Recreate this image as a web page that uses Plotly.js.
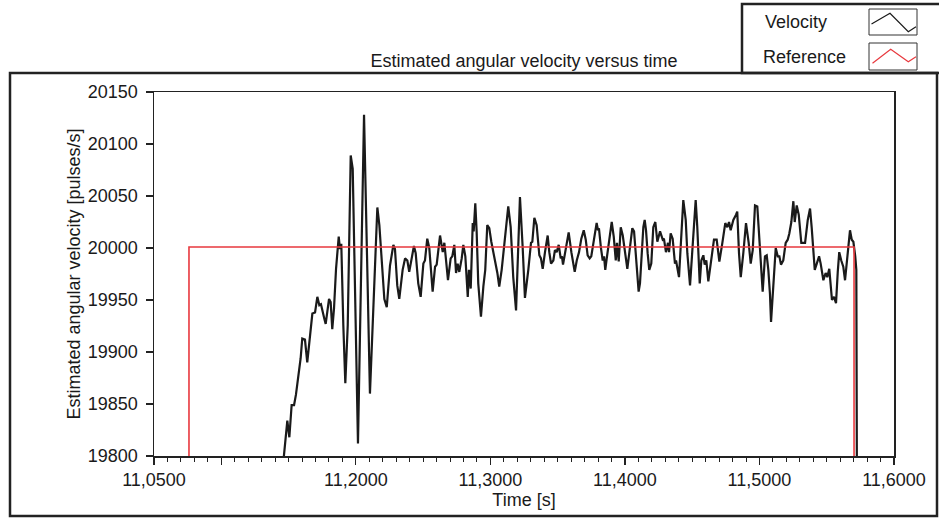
<!DOCTYPE html>
<html>
<head>
<meta charset="utf-8">
<script src="https://cdn.plot.ly/plotly-3.0.1.min.js"></script>
<style>
  html, body { margin: 0; padding: 0; background: #ffffff; }
  #chart { width: 939px; height: 521px; }
</style>
</head>
<body>
<div id="chart"></div>
<script>
// ---- data ----
const timeS = [
  11.1455, 11.1466, 11.1491, 11.1506, 11.1523, 11.1541, 11.1555, 11.1572, 11.1590, 11.1602,
  11.1622, 11.1639, 11.1654, 11.1677, 11.1697, 11.1714, 11.1729, 11.1741, 11.1766, 11.1776,
  11.1801, 11.1813, 11.1825, 11.1838, 11.1853, 11.1862, 11.1873, 11.1882, 11.1892, 11.1907,
  11.1922, 11.1940, 11.1962, 11.1977, 11.1994, 11.2016, 11.2061, 11.2073, 11.2105, 11.2160,
  11.2175, 11.2212, 11.2230, 11.2254, 11.2279, 11.2291, 11.2308, 11.2323,
  11.2348, 11.2366, 11.2383, 11.2397, 11.2415, 11.2432, 11.2445, 11.2464, 11.2482, 11.2502,
  11.2514, 11.2531, 11.2546, 11.2559, 11.2571, 11.2589, 11.2601, 11.2626, 11.2635, 11.2646,
  11.2658, 11.2670, 11.2685, 11.2705, 11.2717, 11.2732, 11.2745, 11.2757, 11.2769, 11.2787,
  11.2799, 11.2814, 11.2832, 11.2841, 11.2854, 11.2869, 11.2876, 11.2888, 11.2898, 11.2910,
  11.2930, 11.2948, 11.2962, 11.2977, 11.2992, 11.3007, 11.3020, 11.3034, 11.3052, 11.3066,
  11.3084, 11.3101, 11.3133, 11.3151, 11.3170, 11.3191, 11.3220,
  11.3240, 11.3257, 11.3282, 11.3302, 11.3312, 11.3327, 11.3344, 11.3364, 11.3376, 11.3389,
  11.3406, 11.3426, 11.3438, 11.3451, 11.3468, 11.3480, 11.3493, 11.3508, 11.3523, 11.3532,
  11.3540, 11.3562, 11.3582, 11.3602, 11.3616, 11.3627, 11.3642, 11.3659, 11.3676, 11.3694,
  11.3709, 11.3723, 11.3738, 11.3750, 11.3770, 11.3790, 11.3800, 11.3807, 11.3822, 11.3835,
  11.3845, 11.3854, 11.3865, 11.3884, 11.3902, 11.3917, 11.3932, 11.3941, 11.3954, 11.3969,
  11.3984, 11.4018, 11.4033, 11.4055, 11.4068, 11.4088, 11.4102,
  11.4112, 11.4125, 11.4137, 11.4147, 11.4157, 11.4169, 11.4181, 11.4196, 11.4211, 11.4226,
  11.4241, 11.4261, 11.4281, 11.4290, 11.4305, 11.4320, 11.4328, 11.4340, 11.4355, 11.4372,
  11.4380, 11.4402, 11.4415, 11.4427, 11.4434, 11.4452, 11.4464, 11.4484, 11.4501, 11.4526,
  11.4538, 11.4556, 11.4568, 11.4583, 11.4593, 11.4605, 11.4620, 11.4638, 11.4662, 11.4682,
  11.4702, 11.4722, 11.4746, 11.4761, 11.4774, 11.4786, 11.4806, 11.4826, 11.4835, 11.4848,
  11.4861, 11.4880, 11.4900, 11.4920, 11.4935, 11.4950, 11.4967, 11.4984, 11.4999,
  11.5004, 11.5024, 11.5041, 11.5054, 11.5066, 11.5078, 11.5086, 11.5103, 11.5121, 11.5136,
  11.5148, 11.5160, 11.5177, 11.5195, 11.5210, 11.5222, 11.5237, 11.5252, 11.5262, 11.5277,
  11.5292, 11.5311, 11.5339, 11.5359, 11.5376, 11.5388, 11.5411, 11.5426, 11.5443, 11.5455,
  11.5475, 11.5492, 11.5504, 11.5519, 11.5539, 11.5554, 11.5569, 11.5582, 11.5593, 11.5608,
  11.5623, 11.5636, 11.5653, 11.5673, 11.5686, 11.5698, 11.5712, 11.5720, 11.5726
];
const velocity = [
  19786, 19801, 19834, 19818, 19849, 19849, 19859, 19876, 19894, 19913,
  19912, 19890, 19910, 19937, 19938, 19953, 19945, 19946, 19932, 19927,
  19951, 19948, 19922, 19942, 19980, 19993, 20011, 19999, 20004, 19926,
  19870, 19926, 20089, 20076, 19958, 19812, 20128, 20054, 19860, 20039,
  20022, 19951, 19943, 19983, 20003, 19999, 19964, 19951,
  19979, 19990, 19988, 19977, 19992, 20002, 19995, 19966, 19953, 19985,
  19988, 20009, 20000, 19976, 19958, 19982, 19984, 20012, 20005, 19996,
  20005, 19988, 19969, 19990, 19992, 20003, 19976, 19985, 19977, 19990,
  20003, 19992, 19953, 19979, 19961, 20024, 20016, 20043, 20016, 19966,
  19934, 19963, 19979, 20022, 20019, 20006, 19996, 19988, 19976, 19963,
  19979, 20001, 20040, 20020, 19972, 19940, 20049,
  20001, 19952, 19979, 20005, 20006, 20029, 20022, 19993, 19990, 19980,
  19996, 20012, 19996, 19985, 19988, 19998, 19996, 20003, 19990, 19992,
  19984, 20000, 20015, 19996, 19985, 19977, 19988, 19996, 20009, 20017,
  20008, 19993, 19990, 19992, 20008, 20024, 20017, 20019, 20000, 19988,
  19992, 19979, 19990, 20008, 20025, 20011, 19988, 20005, 19987, 20020,
  20012, 19980, 19996, 20019, 20016, 19976, 19958,
  19966, 20001, 20020, 20027, 20017, 19995, 19979, 19985, 20020, 20025,
  20006, 20016, 20008, 20009, 19996, 20005, 19996, 20014, 20009, 19985,
  19988, 19972, 20008, 20037, 20046, 20027, 19995, 19964, 19998, 20046,
  20020, 19966, 19988, 19993, 19984, 19988, 19968, 19985, 20008, 20008,
  19987, 20003, 20024, 20020, 20025, 20017, 20027, 20032, 20035, 19995,
  19972, 19995, 20024, 20005, 19985, 19998, 20041, 20040, 20008,
  19992, 19958, 19992, 19993, 19979, 19956, 19929, 19963, 20000, 19992,
  19992, 19984, 19988, 20005, 20008, 20014, 20025, 20045, 20025, 20041,
  20032, 20005, 20005, 20027, 20038, 20020, 19979, 19985, 19992, 19985,
  19969, 19976, 19972, 19980, 19950, 19953, 19947, 19977, 19996, 19988,
  19982, 19969, 19993, 20017, 20008, 20006, 19992, 19979, 19700
];
const refTime = [11.0760, 11.0760, 11.5703, 11.5703];
const refValue = [19700, 20001, 20001, 19700];

const xTickVals = [11.05, 11.1, 11.2, 11.3, 11.4, 11.5, 11.6];
const xTickText = ['11,0500', '', '11,2000', '11,3000', '11,4000', '11,5000', '11,6000'];
const yTickVals = [19800, 19850, 19900, 19950, 20000, 20050, 20100, 20150];
const yTickText = ['19800', '19850', '19900', '19950', '20000', '20050', '20100', '20150'];

const seriesNames = ['Velocity', 'Reference'];
const chartTitle = 'Estimated angular velocity versus time';
const xTitle = 'Time [s]';
const yTitle = 'Estimated angular velocity [pulses/s]';

// ---- styling ----
const FONT = "'Liberation Sans', Arial, Helvetica, sans-serif";
const FS = 18;
const INK = '#1a1a1a';
const RED = '#e8393e';

const traces = [
  { x: timeS, y: velocity, type: 'scatter', mode: 'lines', name: seriesNames[0],
    line: { color: '#1a1a1a', width: 2.2 }, showlegend: false },
  { x: refTime, y: refValue, type: 'scatter', mode: 'lines', name: seriesNames[1],
    line: { color: RED, width: 1.6 }, showlegend: false }
];

// pixel helpers for legend decorations (paper coordinates of the plot area)
const L = 154, R = 894, T = 92, B = 456;
const px = v => (v - L) / (R - L);
const py = v => (B - v) / (B - T);

const shapes = [
  // outer frame
  { type: 'rect', xref: 'paper', yref: 'paper', x0: px(10), x1: px(937), y0: py(516), y1: py(73),
    line: { color: '#222', width: 2.5 }, layer: 'below' },
  // legend box
  { type: 'rect', xref: 'paper', yref: 'paper', x0: px(742), x1: px(947), y0: py(73), y1: py(4),
    line: { color: '#222', width: 2.5 } },
  // legend symbol boxes
  { type: 'rect', xref: 'paper', yref: 'paper', x0: px(869), x1: px(917), y0: py(35), y1: py(9),
    line: { color: '#333', width: 1 } },
  { type: 'rect', xref: 'paper', yref: 'paper', x0: px(869), x1: px(917), y0: py(70), y1: py(43),
    line: { color: '#333', width: 1 } },
  { type: 'path', xref: 'paper', yref: 'paper',
    path: `M${px(871.5)},${py(24)} L${px(890)},${py(13.3)} L${px(908.3)},${py(31.7)} L${px(916)},${py(26.7)}`,
    line: { color: '#1a1a1a', width: 1.2 } },
  { type: 'path', xref: 'paper', yref: 'paper',
    path: `M${px(872.5)},${py(63.3)} L${px(890.7)},${py(49.3)} L${px(908.3)},${py(61.7)} L${px(916)},${py(56.7)}`,
    line: { color: RED, width: 1.2 } }
];

const annotations = [
  { text: seriesNames[0], xref: 'paper', yref: 'paper', x: px(763), y: py(22),
    xanchor: 'left', yanchor: 'middle', showarrow: false, font: { family: FONT, size: FS, color: INK } },
  { text: seriesNames[1], xref: 'paper', yref: 'paper', x: px(761), y: py(57),
    xanchor: 'left', yanchor: 'middle', showarrow: false, font: { family: FONT, size: FS, color: INK } }
];

const layout = {
  width: 939, height: 521,
  margin: { l: L, r: 939 - R, t: T, b: 521 - B, pad: 0 },
  paper_bgcolor: '#ffffff', plot_bgcolor: '#ffffff',
  font: { family: FONT, size: FS, color: INK },
  showlegend: false,
  hovermode: false,
  title: { text: chartTitle, x: 0.5, xref: 'paper', xanchor: 'center',
           y: 1 - 61 / 521, yref: 'container', yanchor: 'middle',
           font: { family: FONT, size: FS, color: INK } },
  xaxis: {
    range: [11.05, 11.6], tickmode: 'array', tickvals: xTickVals, ticktext: xTickText,
    ticks: 'outside', ticklen: 7, tickwidth: 1.2, tickcolor: '#222',
    minor: { tickmode: 'linear', tick0: 11.05, dtick: 0.01, ticks: 'outside', ticklen: 4, tickwidth: 1, tickcolor: '#222', showgrid: false },
    showline: true, mirror: true, linecolor: '#222', linewidth: 1.5,
    showgrid: false, zeroline: false,
    tickfont: { family: FONT, size: FS, color: INK },
    title: { text: xTitle, standoff: 4, font: { family: FONT, size: FS, color: INK } }
  },
  yaxis: {
    range: [19800, 20150], tickmode: 'array', tickvals: yTickVals, ticktext: yTickText,
    ticks: 'outside', ticklen: 7, tickwidth: 1.2, tickcolor: '#222', ticklabelstandoff: 4,
    showline: true, mirror: true, linecolor: '#222', linewidth: 1.5,
    showgrid: false, zeroline: false,
    tickfont: { family: FONT, size: FS, color: INK },
    title: { text: yTitle, standoff: 2, font: { family: FONT, size: FS, color: INK } }
  },
  shapes: shapes,
  annotations: annotations
};

Plotly.newPlot('chart', traces, layout, { staticPlot: true, displayModeBar: false });
</script>
</body>
</html>
